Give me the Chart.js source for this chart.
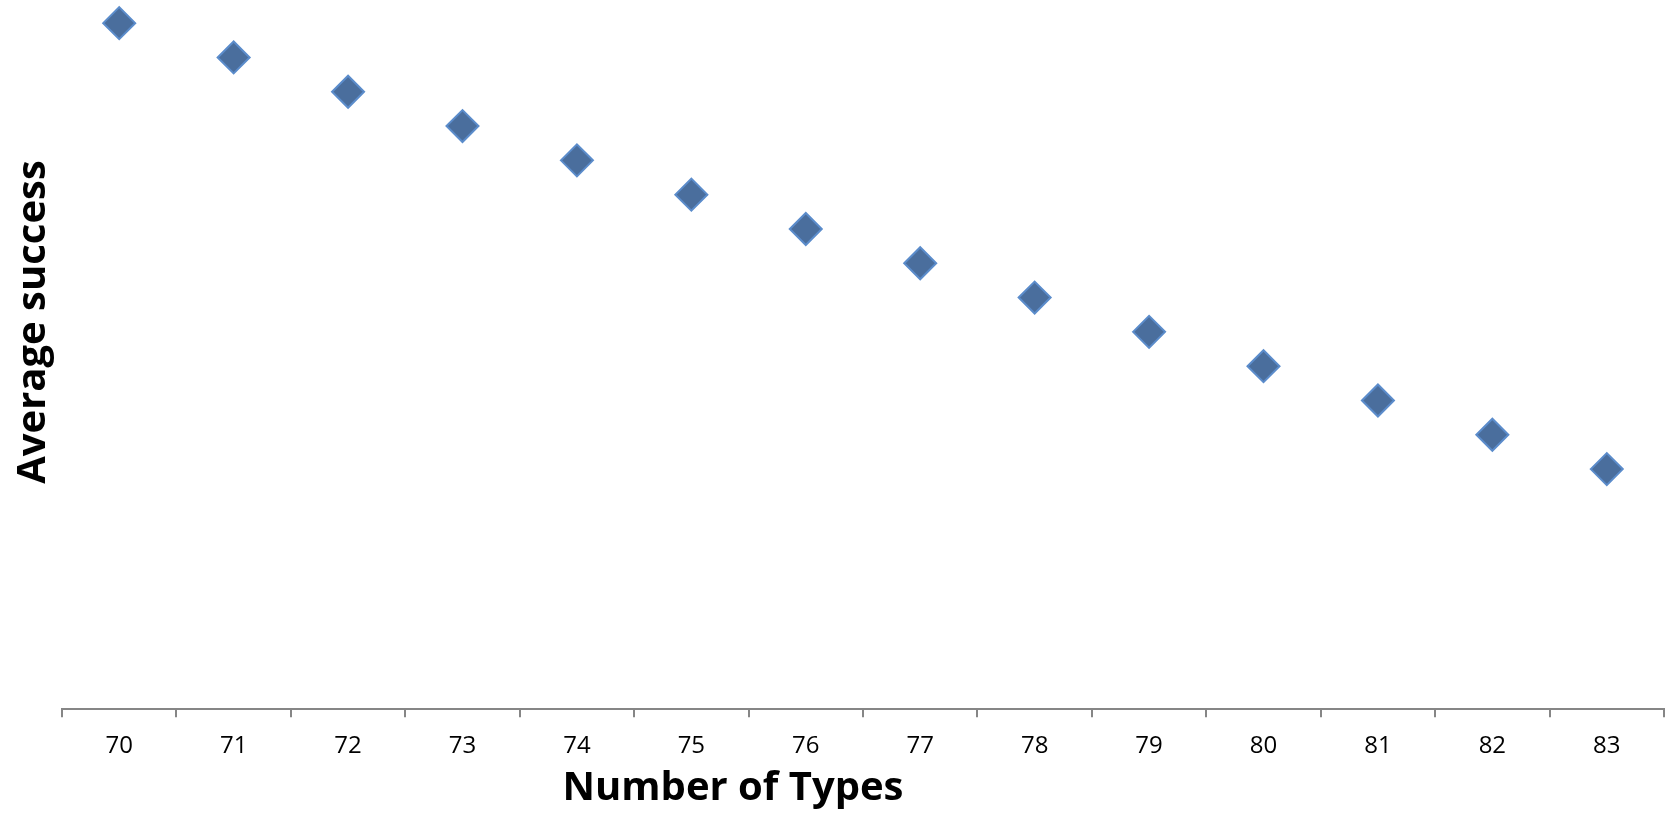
<!DOCTYPE html>
<html>
<head>
<meta charset="utf-8">
<script src="https://cdn.jsdelivr.net/npm/chart.js@4.4.1/dist/chart.umd.min.js"></script>
<style>
    html, body { margin: 0; padding: 0; background: #ffffff; }
    #wrap { width: 1675px; height: 818px; }
</style>
</head>
<body>
<div id="wrap"><canvas id="successChart"></canvas></div>
<script>
// Data
const typeLabels = ['70', '71', '72', '73', '74', '75', '76', '77', '78', '79', '80', '81', '82', '83'];
const avgSuccess = [20, 19, 18, 17, 16, 15, 14, 13, 12, 11, 10, 9, 8, 7];

const xTitle = 'Number of Types';
const yTitle = 'Average success';

// Axis titles sit off-centre in the original, so draw them by hand
const axisTitles = {
    id: 'axisTitles',
    afterDraw(chart) {
        const c = chart.ctx;
        c.save();
        c.fillStyle = '#000000';
        c.font = 'bold 40px "Open Sans"';
        c.textAlign = 'center';
        c.textBaseline = 'alphabetic';
        c.fillText(xTitle, 733, 800);
        c.translate(45, 322);
        c.rotate(-Math.PI / 2);
        c.fillText(yTitle, 0, 0);
        c.restore();
    }
};

const ctx = document.getElementById('successChart').getContext('2d');
const successChart = new Chart(ctx, {
    type: 'line',
    data: {
        labels: typeLabels,
        datasets: [{
            label: yTitle,
            data: avgSuccess,
            showLine: false,
            pointStyle: 'rectRot',
            pointRadius: 16,
            pointHoverRadius: 16,
            pointBackgroundColor: '#4a6e9d',
            pointBorderColor: '#5b8ccb',
            pointBorderWidth: 2,
            clip: false,
        }],
    },
    options: {
        responsive: true,
        maintainAspectRatio: false,
        animation: false,
        events: [],
        layout: {
            autoPadding: false,
            padding: { top: 6, right: 11, bottom: 42, left: 62 },
        },
        plugins: {
            legend: { display: false },
            tooltip: { enabled: false },
        },
        scales: {
            x: {
                type: 'category',
                offset: true,
                grid: {
                    offset: true,
                    drawOnChartArea: false,
                    drawTicks: true,
                    tickLength: 8,
                    color: '#868686',
                    lineWidth: 2,
                },
                border: { display: true, color: '#868686', width: 2 },
                ticks: {
                    color: '#000000',
                    padding: 15,
                    maxRotation: 0,
                    font: { family: 'Open Sans', size: 24 },
                },
            },
            y: {
                display: false,
                min: 0,
                max: 20.5,
            },
        },
    },
    plugins: [axisTitles],
});
</script>
</body>
</html>
